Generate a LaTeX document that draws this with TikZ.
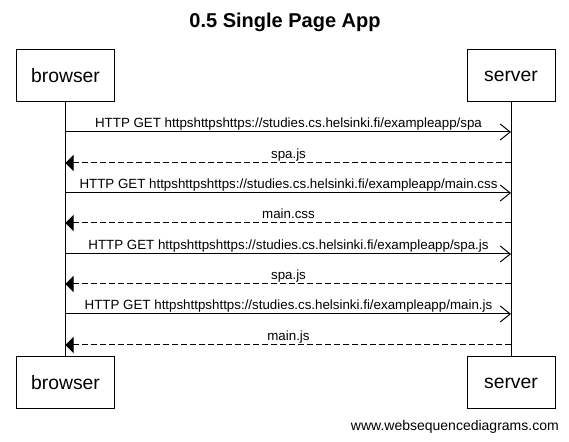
\documentclass[tikz,border=0pt]{standalone}
\usepackage{fontspec}
\setmainfont{Liberation Sans}
\usetikzlibrary{arrows.meta}
\begin{document}
\begin{tikzpicture}[x=0.75pt,y=-0.75pt,
  actor/.style={draw,line width=0.75pt,inner sep=0pt,minimum height=39pt,font=\fontsize{14.5}{16}\selectfont},
  bactor/.style={actor,minimum width=74pt},
  sactor/.style={actor,minimum width=66pt},
  lifeline/.style={line width=0.75pt},
  req/.style={line width=0.75pt,-{Straight Barb[length=7.5pt,width=12pt,line width=0.75pt]}},
  resp/.style={line width=0.75pt,dash pattern=on 4.5pt off 2.25pt,-{Triangle[length=6pt,width=12pt]}},
  msg/.style={anchor=base,inner sep=0pt,font=\fontsize{10}{11}\selectfont}]
\useasboundingbox (0,0) rectangle (569,442);
\node[font=\bfseries\fontsize{15}{17}\selectfont] (title) at (285,22) {0.5 Single Page App};
\node[bactor] (bt) at (65.5,76) {browser};
\node[sactor] (st) at (511,76) {server};
\node[bactor] (bb) at (65.5,383) {browser};
\node[sactor] (sb) at (511,383) {server};
\draw[lifeline] (bt.south) -- (bb.north);
\draw[lifeline] (st.south) -- (sb.north);
\foreach \i/\y in {1/132,2/163,3/193,4/223,5/254,6/284,7/314,8/345}{
  \coordinate (b\i) at (65.5,\y);
  \coordinate (s\i) at (511,\y);
}
\draw[req] (b1) -- (s1);
\node[msg] (m1) at (288.5,128) {HTTP GET httpshttpshttps://studies.cs.helsinki.fi/exampleapp/spa};
\draw[resp] (s2) -- (b2);
\node[msg] (m2) at (288.5,159) {spa.js};
\draw[req] (b3) -- (s3);
\node[msg] (m3) at (288.5,189) {HTTP GET httpshttpshttps://studies.cs.helsinki.fi/exampleapp/main.css};
\draw[resp] (s4) -- (b4);
\node[msg] (m4) at (288.5,219) {main.css};
\draw[req] (b5) -- (s5);
\node[msg] (m5) at (288.5,250) {HTTP GET httpshttpshttps://studies.cs.helsinki.fi/exampleapp/spa.js};
\draw[resp] (s6) -- (b6);
\node[msg] (m6) at (288.5,280) {spa.js};
\draw[req] (b7) -- (s7);
\node[msg] (m7) at (288.5,310) {HTTP GET httpshttpshttps://studies.cs.helsinki.fi/exampleapp/main.js};
\draw[resp] (s8) -- (b8);
\node[msg] (m8) at (288.5,341) {main.js};
\node[anchor=base east,inner sep=0pt,font=\fontsize{10.5}{12}\selectfont] (web) at (559,431) {www.websequencediagrams.com};
\end{tikzpicture}
\end{document}
